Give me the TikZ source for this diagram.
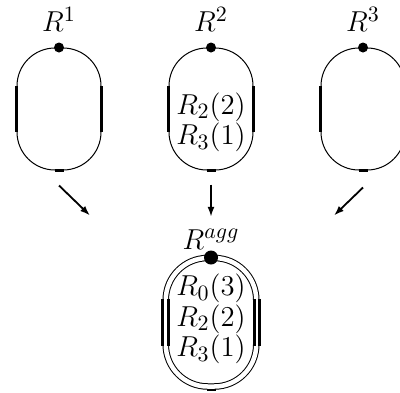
\documentclass[tikz,border=0pt]{standalone}
\usepackage{tikz}
\usetikzlibrary{positioning, arrows.meta}

\begin{document}
\begin{tikzpicture}[
  x=0.5pt, y=0.5pt,
  every node/.style={font=\fontsize{15}{15.25}\selectfont, inner sep=0pt},
  ring/.style={draw, line width=0.5pt, rounded corners=19pt,
    minimum width=42pt, minimum height=61pt},
  aggring/.style={draw, line width=0.5pt, double, double distance=2.25pt,
    rounded corners=21pt, minimum width=45.25pt, minimum height=64.25pt},
  dot/.style={circle, fill, minimum size=5pt},
  bigdot/.style={circle, fill, minimum size=7pt},
  bar/.style={line width=1.5pt},
  dbar/.style={line width=1.5pt, double, double distance=1.25pt},
  arr/.style={-{Latex[length=5pt, width=3.5pt]}, line width=0.9pt}
]
  \useasboundingbox (0,0) rectangle (400,-392);

  % Rings
  \node[ring] (r1) at (59,-109) {};
  \node[ring, right=33.5pt of r1] (r2) {};
  \node[ring, right=33.5pt of r2] (r3) {};

  % Aggregated ring
  \node[aggring, below=43.5pt of r2] (ragg) {};

  % Entry points and names
  \node[dot] (d1) at (r1.north) {};
  \node[dot] (d2) at (r2.north) {};
  \node[dot] (d3) at (r3.north) {};
  \node[bigdot] (dagg) at (ragg.north) {};
  \node[above=5pt of d1] (l1) {$R^1$};
  \node[above=5pt of d2] (l2) {$R^2$};
  \node[above=5pt of d3] (l3) {$R^3$};
  \node[above=0.5pt of dagg, anchor=base] (lagg) {$R^{agg}$};

  % Contents
  \node[align=center] (t2) at ([yshift=-6.75pt]r2.center) {$R_2(2)$\\$R_3(1)$};
  \node[align=center] (tagg) at ([yshift=1.5pt]ragg.center) {$R_0(3)$\\$R_2(2)$\\$R_3(1)$};

  % Thick sides
  \draw[bar] ([yshift=11.5pt]r1.west) -- ([yshift=-11.5pt]r1.west);
  \draw[bar] ([yshift=11.5pt]r1.east) -- ([yshift=-11.5pt]r1.east);
  \draw[bar] ([yshift=11.5pt]r2.west) -- ([yshift=-11.5pt]r2.west);
  \draw[bar] ([yshift=11.5pt]r2.east) -- ([yshift=-11.5pt]r2.east);
  \draw[bar] ([yshift=11.5pt]r3.west) -- ([yshift=-11.5pt]r3.west);
  \draw[dbar] ([yshift=11.75pt]ragg.west) -- ([yshift=-11.75pt]ragg.west);
  \draw[dbar] ([yshift=11.75pt]ragg.east) -- ([yshift=-11.75pt]ragg.east);

  % Bottom marks
  \draw[bar] ([xshift=-2.25pt]r1.south) -- ([xshift=2.25pt]r1.south);
  \draw[bar] ([xshift=-2.25pt]r2.south) -- ([xshift=2.25pt]r2.south);
  \draw[bar] ([xshift=-2.25pt]r3.south) -- ([xshift=2.25pt]r3.south);
  \draw[line width=1.2pt] ([xshift=-2.25pt, yshift=-1.375pt]ragg.south)
    -- ([xshift=2.25pt, yshift=-1.375pt]ragg.south);

  % Arrows
  \coordinate[below=7.5pt of r1] (a1s);
  \coordinate[below right=15pt and 15.5pt of a1s] (a1e);
  \coordinate[below=8.5pt of r3] (a3s);
  \coordinate[below left=14pt and 14.5pt of a3s] (a3e);
  \draw[arr] (a1s) -- (a1e);
  \draw[arr, shorten <=7pt, shorten >=6pt] (r2.south) -- (lagg.north);
  \draw[arr] (a3s) -- (a3e);
\end{tikzpicture}
\end{document}
